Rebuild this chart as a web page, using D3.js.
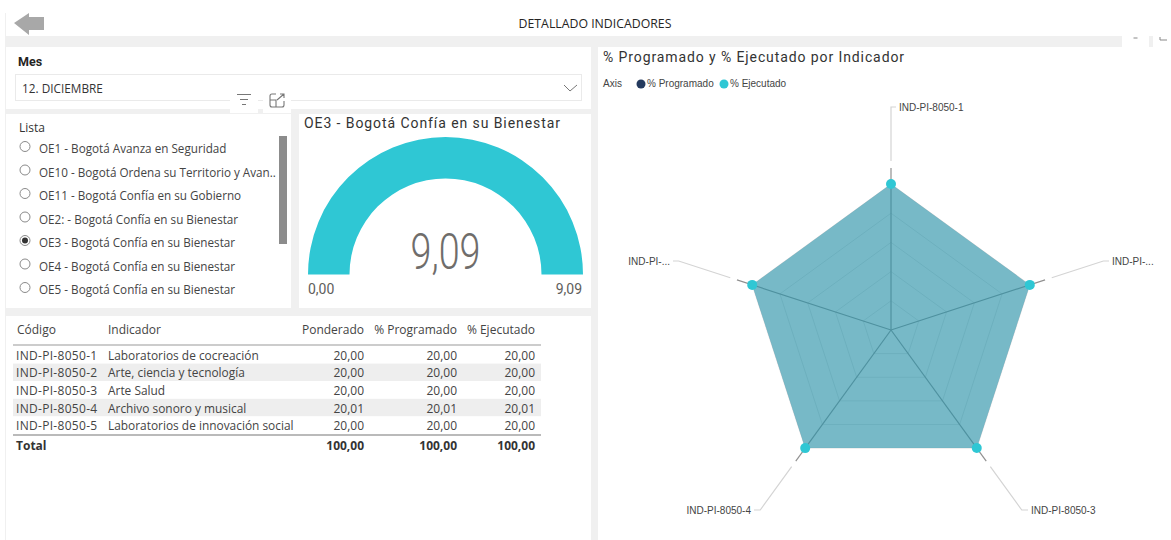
<!DOCTYPE html>
<html>
<head>
<meta charset="utf-8">
<script src="https://cdn.jsdelivr.net/npm/d3@7"></script>
<style>
  html, body { margin: 0; padding: 0; background: #fff; overflow: hidden; }
  svg { display: block; }
</style>
</head>
<body>
<svg id="chart" width="1171" height="540"></svg>
<script>
// =============================
// Data
// =============================
const indicators = ["IND-PI-8050-1", "IND-PI-8050-2", "IND-PI-8050-3", "IND-PI-8050-4", "IND-PI-8050-5"];
const indicatorNames = ["Laboratorios de cocreación", "Arte, ciencia y tecnología", "Arte Salud", "Archivo sonoro y musical", "Laboratorios de innovación social"];
const ponderado = [20.00, 20.00, 20.00, 20.01, 20.00];
const programado = [20.00, 20.00, 20.00, 20.01, 20.00];
const ejecutado = [20.00, 20.00, 20.00, 20.01, 20.00];
const totals = [100.00, 100.00, 100.00];
const radarLabels = ["IND-PI-8050-1", "IND-PI-...", "IND-PI-8050-3", "IND-PI-8050-4", "IND-PI-..."];
const listItems = [
  "OE1 - Bogotá Avanza en Seguridad",
  "OE10 - Bogotá Ordena su Territorio y Avan..",
  "OE11 - Bogotá Confía en su Gobierno",
  "OE2: - Bogotá Confía en su Bienestar",
  "OE3 - Bogotá Confía en su Bienestar",
  "OE4 - Bogotá Confía en su Bienestar",
  "OE5 - Bogotá Confía en su Bienestar"
];
const selectedItem = 4;
const gaugeValue = 9.09;
const gaugeMin = 0;
const gaugeMax = 9.09;

const NAVY = "#243a5e";
const TEAL = "#2fc7d4";
const BODY = "'Open Sans', 'Noto Sans', sans-serif";
const DIN = "Roboto, 'Noto Sans', sans-serif";
const ARIAL = "'Liberation Sans', sans-serif";
const fmt = v => v.toFixed(2).replace(".", ",");

const svg = d3.select("#chart");

function label(parent, x, y, str, size, color, opts = {}) {
  return parent.append("text")
    .attr("x", x).attr("y", y)
    .attr("font-family", opts.family || BODY)
    .attr("font-size", size + "px")
    .attr("font-weight", opts.weight || 400)
    .attr("letter-spacing", opts.spacing || 0)
    .attr("text-anchor", opts.anchor || "start")
    .attr("fill", color)
    .text(str);
}

// =============================
// Page panels
// =============================
svg.append("rect").attr("x", 5).attr("y", 36).attr("width", 1166).attr("height", 504).attr("fill", "#f0f0f0");
svg.append("rect").attr("x", 5).attr("y", 13).attr("width", 1).attr("height", 23).attr("fill", "#f0f0f0");

const panels = [
  [6, 47, 585, 62],
  [6, 114, 285, 194],
  [299, 114, 292, 194],
  [6, 316, 585, 224],
  [598, 47, 573, 493]
];
svg.append("g").selectAll("rect")
  .data(panels)
  .join("rect")
  .attr("x", d => d[0]).attr("y", d => d[1])
  .attr("width", d => d[2]).attr("height", d => d[3])
  .attr("fill", "#fff");

// Back arrow
svg.append("path")
  .attr("d", "M14,23 L29,13 L29,17 L44,17 L44,30 L29,30 L29,35 Z")
  .attr("fill", "#a8a8a8");

label(svg, 595, 27.5, "DETALLADO INDICADORES", 12.3, "#252423", { anchor: "middle" });

// =============================
// Slicer "Mes"
// =============================
label(svg, 18, 65.5, "Mes", 12.5, "#252423", { family: DIN, weight: 700 });
svg.append("rect").attr("x", 15.5).attr("y", 74.5).attr("width", 566).attr("height", 26)
  .attr("fill", "#fff").attr("stroke", "#eaeaea");
label(svg, 22, 93, "12. DICIEMBRE", 11.8, "#333");
svg.append("path").attr("d", "M564,85 L570,91 L577,85").attr("fill", "none").attr("stroke", "#777");

// Hover icons over the slicer
svg.append("rect").attr("x", 230).attr("y", 88).attr("width", 28).attr("height", 25).attr("fill", "#fff");
svg.append("rect").attr("x", 263).attr("y", 88).attr("width", 28).attr("height", 25).attr("fill", "#fff");
svg.append("path").attr("d", "M237,94.5 H251 M240,99.5 H248 M242,104.5 H246")
  .attr("fill", "none").attr("stroke", "#777").attr("stroke-width", 1.2);
svg.append("path").attr("d", "M276,94 H272 Q270,94 270,96 V105 Q270,107 272,107 H282 Q284,107 284,105 V101 M270,100 H276 V107 M277,100 L284,94 M280,94 H284 V98")
  .attr("fill", "none").attr("stroke", "#777").attr("stroke-width", 1.1);

// =============================
// Slicer "Lista"
// =============================
label(svg, 19, 132, "Lista", 12, "#333");
const itemY = d3.scalePoint().domain(d3.range(listItems.length)).range([149, 290]);
const items = svg.append("g").selectAll("g")
  .data(listItems)
  .join("g")
  .attr("transform", (d, i) => `translate(0,${itemY(i)})`);
items.append("circle").attr("cx", 25).attr("cy", -2.5).attr("r", 5)
  .attr("fill", "#fff").attr("stroke", "#8a8a8a");
items.filter((d, i) => i === selectedItem).append("circle")
  .attr("cx", 25).attr("cy", -2.5).attr("r", 3).attr("fill", "#333");
items.append("text")
  .attr("x", 39).attr("y", 4)
  .attr("font-family", BODY).attr("font-size", "11.7px").attr("fill", "#444")
  .text(d => d);
svg.append("rect").attr("x", 279).attr("y", 136).attr("width", 8).attr("height", 108).attr("fill", "#8c8c8c");

// =============================
// Gauge
// =============================
label(svg, 304, 128, "OE3 - Bogotá Confía en su Bienestar", 14, "#333", { family: DIN, spacing: 0.92 });
const gaugeAngle = d3.scaleLinear().domain([gaugeMin, gaugeMax]).range([-Math.PI / 2, Math.PI / 2]);
const gaugeArc = d3.arc().innerRadius(96).outerRadius(137.5);
const gauge = svg.append("g").attr("transform", "translate(445.5,274.5)");
gauge.append("path")
  .attr("d", gaugeArc({ startAngle: gaugeAngle(gaugeMin), endAngle: gaugeAngle(gaugeValue) }))
  .attr("fill", TEAL);
label(gauge, 0, -6, fmt(gaugeValue), 50, "#6f6d6b", { family: DIN, anchor: "middle" })
  .attr("font-weight", 300)
  .attr("textLength", 70)
  .attr("lengthAdjust", "spacingAndGlyphs");
label(svg, 308, 294, fmt(gaugeMin), 14, "#605e5c", { family: DIN });
label(svg, 582, 294, fmt(gaugeMax), 14, "#605e5c", { family: DIN, anchor: "end" });

// =============================
// Table
// =============================
const rowY = d3.scaleBand().domain(d3.range(indicators.length)).range([346, 434]);
const table = svg.append("g");
table.selectAll("rect")
  .data(indicators)
  .join("rect")
  .attr("x", 13).attr("width", 528)
  .attr("y", (d, i) => rowY(i)).attr("height", rowY.bandwidth())
  .attr("fill", (d, i) => i % 2 ? "#eeeeee" : "#fff");
table.append("line").attr("x1", 13).attr("x2", 541).attr("y1", 345).attr("y2", 345).attr("stroke", "#999").attr("stroke-width", 1.2);
table.append("line").attr("x1", 13).attr("x2", 541).attr("y1", 435).attr("y2", 435).attr("stroke", "#777").attr("stroke-width", 1.2);

label(table, 17, 334, "Código", 12, "#444");
label(table, 108, 334, "Indicador", 12, "#444");
label(table, 364, 334, "Ponderado", 12, "#444", { anchor: "end" });
label(table, 457, 334, "% Programado", 12, "#444", { anchor: "end" });
label(table, 535, 334, "% Ejecutado", 12, "#444", { anchor: "end" });

const colEnds = [364, 457, 535];
const colValues = [ponderado, programado, ejecutado];
indicators.forEach((code, i) => {
  const y = rowY(i) + rowY.bandwidth() / 2 + 5;
  label(table, 16, y, code, 12, "#444", { spacing: 0.3 });
  label(table, 108, y, indicatorNames[i], 11.9, "#444");
  colValues.forEach((vals, c) => label(table, colEnds[c], y, fmt(vals[i]), 12, "#444", { anchor: "end" }));
});
label(table, 16, 449.5, "Total", 12, "#333", { weight: 700 });
totals.forEach((t, c) => label(table, colEnds[c], 449.5, fmt(t), 12, "#333", { anchor: "end", weight: 700 }));

// =============================
// Radar
// =============================
label(svg, 603, 62, "% Programado y % Ejecutado por Indicador", 14, "#333", { family: DIN, spacing: 0.9 });
label(svg, 603, 87, "Axis", 10, "#444", { family: ARIAL });
svg.append("circle").attr("cx", 641).attr("cy", 84).attr("r", 4.5).attr("fill", NAVY);
label(svg, 647, 87, "% Programado", 10, "#444", { family: ARIAL });
svg.append("circle").attr("cx", 724).attr("cy", 84).attr("r", 4.5).attr("fill", TEAL);
label(svg, 730, 87, "% Ejecutado", 10, "#444", { family: ARIAL });

const cx = 891, cy = 330;
const maxValue = d3.max(programado.concat(ejecutado));
const rScale = d3.scaleLinear().domain([0, maxValue]).range([0, 146]);
const angle = d3.scalePoint().domain(indicators).range([0, 2 * Math.PI * 4 / 5]);
const point = (code, r) => [r * Math.sin(angle(code)), -r * Math.cos(angle(code))];

const radar = svg.append("g").attr("transform", `translate(${cx},${cy})`);
const lineClosed = d3.line().curve(d3.curveLinearClosed);

// Grid rings
const levels = d3.range(1, 6).map(k => maxValue * k / 5);
radar.append("g").selectAll("path")
  .data(levels)
  .join("path")
  .attr("d", v => lineClosed(indicators.map(c => point(c, rScale(v)))))
  .attr("fill", "none").attr("stroke", "#e4e4e4").attr("stroke-width", 1);

// Spokes and label leaders
radar.append("g").selectAll("line")
  .data(indicators)
  .join("line")
  .attr("x2", c => point(c, 162)[0]).attr("y2", c => point(c, 162)[1])
  .attr("stroke", "#909090").attr("stroke-width", 1.2);

const labelAt = [
  { y: -223, x: 8, anchor: "start" },
  { y: -69, x: 221, anchor: "start" },
  { y: 180, x: 140, anchor: "start" },
  { y: 180, x: -140, anchor: "end" },
  { y: -69, x: -221, anchor: "end" }
];
indicators.forEach((c, i) => {
  const at = labelAt[i];
  const side = at.anchor === "start" ? 1 : -1;
  const start = point(c, 169);
  // the elbow sits on the spoke's direction at the label's height
  const elbow = i === 0 ? [0, at.y] : point(c, at.y / -Math.cos(angle(c)));
  radar.append("path")
    .attr("d", d3.line()([start, elbow, [at.x - side * 3, at.y]]))
    .attr("fill", "none").attr("stroke", "#d4d4d4").attr("stroke-width", 1.2);
  label(radar, at.x, at.y + 3.5, radarLabels[i], 10, "#444", { family: ARIAL, anchor: at.anchor });
});

// Series
[[programado, NAVY], [ejecutado, TEAL]].forEach(([vals, color]) => {
  radar.append("path")
    .attr("d", lineClosed(indicators.map((c, i) => point(c, rScale(vals[i])))))
    .attr("fill", color).attr("fill-opacity", 0.4);
});
radar.append("g").selectAll("circle")
  .data(indicators)
  .join("circle")
  .attr("cx", (c, i) => point(c, rScale(ejecutado[i]))[0])
  .attr("cy", (c, i) => point(c, rScale(ejecutado[i]))[1])
  .attr("r", 5).attr("fill", TEAL);

// Clipped hover icons at the top right
svg.append("rect").attr("x", 1122).attr("y", 36).attr("width", 27).attr("height", 11).attr("fill", "#fff");
svg.append("rect").attr("x", 1153).attr("y", 36).attr("width", 18).attr("height", 11).attr("fill", "#fff");
svg.append("path").attr("d", "M1133.5,38 H1137.5").attr("stroke", "#888").attr("stroke-width", 1);
svg.append("path").attr("d", "M1160,37 V40 H1167").attr("fill", "none").attr("stroke", "#888").attr("stroke-width", 1);
</script>
</body>
</html>
